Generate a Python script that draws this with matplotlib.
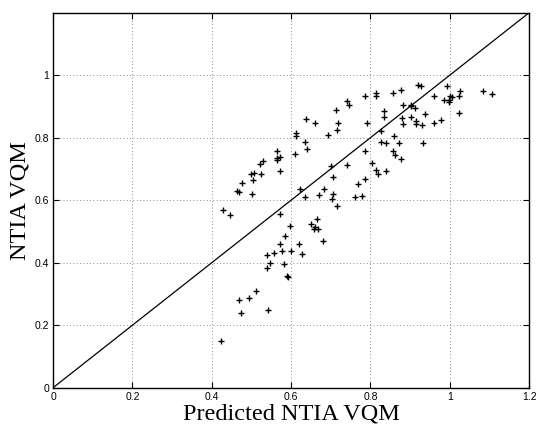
import matplotlib
matplotlib.use("Agg")
import matplotlib.pyplot as plt

predicted = [
    0.428, 0.447, 0.463, 0.468, 0.477, 0.499, 0.506, 0.505, 0.501, 0.522,
    0.524, 0.530, 0.564, 0.572, 0.564, 0.564, 0.571, 0.611, 0.613, 0.613,
    0.636, 0.640, 0.638, 0.661, 0.694, 0.713, 0.718, 0.715, 0.740, 0.747,
    0.787, 0.813, 0.813, 0.856, 0.877, 0.920, 0.927, 0.992, 0.961, 0.986,
    0.998, 1.000, 1.005, 0.997, 1.025, 1.024, 1.023, 1.085, 1.107, 0.792,
    0.834, 0.834, 0.881, 0.903, 0.902, 0.913, 0.938, 0.880, 0.881, 0.902,
    0.914, 0.915, 0.930, 0.960, 0.977, 0.826, 0.859, 0.827, 0.839, 0.873,
    0.932, 0.787, 0.856, 0.862, 0.876,
    0.701, 0.740, 0.705, 0.805, 0.813, 0.820, 0.839, 0.787, 0.770, 0.623,
    0.634, 0.671, 0.683, 0.706, 0.703, 0.715, 0.762, 0.778, 0.573, 0.598,
    0.585, 0.571, 0.621, 0.557, 0.540, 0.578, 0.600, 0.627, 0.546, 0.540,
    0.581, 0.591, 0.593, 0.650, 0.665, 0.661, 0.669, 0.658, 0.680, 0.511,
    0.494, 0.470, 0.473, 0.542, 0.423,
]
measured = [
    0.570, 0.553, 0.630, 0.625, 0.656, 0.685, 0.688, 0.664, 0.619, 0.716,
    0.685, 0.727, 0.756, 0.738, 0.736, 0.730, 0.695, 0.749, 0.815, 0.804,
    0.787, 0.765, 0.861, 0.847, 0.810, 0.889, 0.847, 0.826, 0.916, 0.904,
    0.933, 0.943, 0.933, 0.943, 0.954, 0.969, 0.966, 0.965, 0.934, 0.920,
    0.922, 0.932, 0.930, 0.914, 0.948, 0.932, 0.880, 0.950, 0.941, 0.847,
    0.886, 0.865, 0.904, 0.905, 0.900, 0.896, 0.875, 0.863, 0.843, 0.865,
    0.855, 0.843, 0.841, 0.847, 0.857, 0.821, 0.804, 0.786, 0.782, 0.783,
    0.782, 0.757, 0.759, 0.745, 0.731,
    0.710, 0.713, 0.675, 0.719, 0.697, 0.683, 0.694, 0.668, 0.651, 0.636,
    0.610, 0.617, 0.636, 0.620, 0.605, 0.581, 0.611, 0.613, 0.557, 0.518,
    0.487, 0.460, 0.460, 0.431, 0.426, 0.436, 0.437, 0.427, 0.398, 0.384,
    0.395, 0.356, 0.353, 0.524, 0.539, 0.514, 0.508, 0.508, 0.469, 0.310,
    0.287, 0.280, 0.240, 0.250, 0.149,
]

x_ticks = [0, 0.2, 0.4, 0.6, 0.8, 1, 1.2]
x_tick_labels = ["0", "0.2", "0.4", "0.6", "0.8", "1", "1.2"]
y_ticks = [0, 0.2, 0.4, 0.6, 0.8, 1]
y_tick_labels = ["0", "0.2", "0.4", "0.6", "0.8", "1"]

fig = plt.figure(figsize=(5.36, 4.32), dpi=100)
ax = fig.add_axes([0.099, 0.1025, 0.888, 0.868])

ax.plot(predicted, measured, linestyle="none", marker="+", color="black",
        markersize=5, markeredgewidth=1.0)
ax.axline((0, 0), slope=1, color="black", linewidth=0.9)

ax.set_xlim(0, 1.2)
ax.set_ylim(0, 1.2)
ax.set_xticks(x_ticks)
ax.set_xticklabels(x_tick_labels, family="Liberation Sans", fontsize=7.5)
ax.set_yticks(y_ticks)
ax.set_yticklabels(y_tick_labels, family="Liberation Sans", fontsize=7.5)
ax.tick_params(direction="in", top=True, right=True, length=4, width=0.8, pad=3)

ax.grid(True, linestyle=(0, (1, 3)), color="#666666", linewidth=0.6)
for spine in ax.spines.values():
    spine.set_linewidth(1.0)

ax.set_xlabel("Predicted NTIA VQM", family="Liberation Serif", fontsize=17.5, labelpad=1)
ax.set_ylabel("NTIA VQM", family="Liberation Serif", fontsize=17.5, labelpad=3)

fig.savefig("out.png", dpi=100)
